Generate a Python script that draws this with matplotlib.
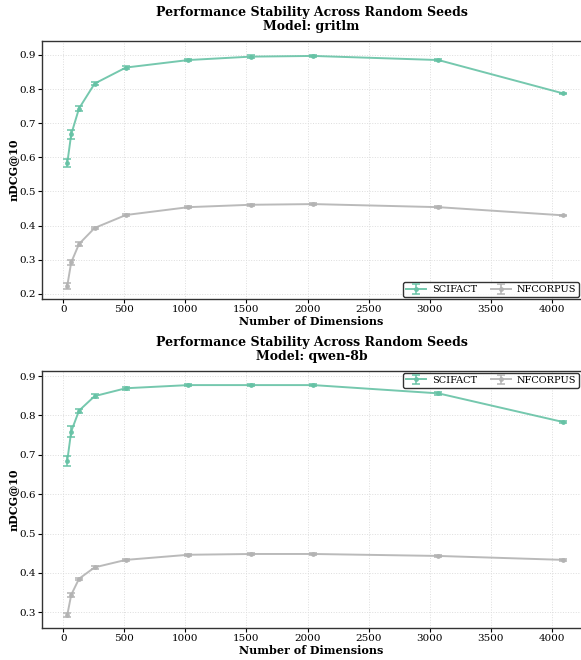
import matplotlib
matplotlib.use('Agg')
import matplotlib.pyplot as plt
import numpy as np

plt.rcParams['font.family'] = 'DejaVu Serif'

dims = [32, 64, 128, 256, 512, 1024, 1536, 2048, 3072, 4096]

# gritlm
gritlm_scifact = [0.583, 0.667, 0.743, 0.816, 0.863, 0.885, 0.895, 0.897, 0.885, 0.787]
gritlm_scifact_err = [0.011, 0.012, 0.008, 0.005, 0.005, 0.004, 0.004, 0.004, 0.003, 0.002]
gritlm_nfcorpus = [0.224, 0.292, 0.346, 0.393, 0.431, 0.454, 0.461, 0.463, 0.454, 0.430]
gritlm_nfcorpus_err = [0.009, 0.007, 0.006, 0.003, 0.003, 0.003, 0.003, 0.003, 0.003, 0.002]

# qwen-8b
qwen_scifact = [0.685, 0.759, 0.812, 0.849, 0.869, 0.877, 0.877, 0.877, 0.856, 0.783]
qwen_scifact_err = [0.013, 0.013, 0.005, 0.006, 0.004, 0.003, 0.003, 0.003, 0.003, 0.002]
qwen_nfcorpus = [0.293, 0.344, 0.385, 0.414, 0.433, 0.446, 0.448, 0.448, 0.443, 0.433]
qwen_nfcorpus_err = [0.006, 0.005, 0.003, 0.004, 0.003, 0.003, 0.003, 0.003, 0.002, 0.002]

c_sci = '#66c2a5'
c_nf = '#b3b3b3'

fig = plt.figure(figsize=(5.81, 6.6), dpi=100)
ax1 = fig.add_axes([0.0723, 0.547, 0.9277, 0.391])
ax2 = fig.add_axes([0.0723, 0.0485, 0.9277, 0.3895])

panels = [
    (ax1, 'gritlm', gritlm_scifact, gritlm_scifact_err, gritlm_nfcorpus, gritlm_nfcorpus_err,
     'lower right', (0.185, 0.941)),
    (ax2, 'qwen-8b', qwen_scifact, qwen_scifact_err, qwen_nfcorpus, qwen_nfcorpus_err,
     'upper right', (0.26, 0.913)),
]

for ax, name, sci, sci_e, nf, nf_e, loc, ylim in panels:
    ax.errorbar(dims, sci, yerr=sci_e, color=c_sci, marker='o', markersize=2.5,
                linewidth=1.4, capsize=3, elinewidth=1.2, capthick=1.2,
                alpha=0.9, label='SCIFACT')
    ax.errorbar(dims, nf, yerr=nf_e, color=c_nf, marker='o', markersize=2.5,
                linewidth=1.4, capsize=3, elinewidth=1.2, capthick=1.2,
                alpha=0.9, label='NFCORPUS')
    ax.set_title('Performance Stability Across Random Seeds\nModel: ' + name,
                 fontsize=9, fontweight='bold', pad=8, linespacing=1.1)
    ax.set_xlabel('Number of Dimensions', fontsize=8, fontweight='bold', labelpad=1)
    ax.set_ylabel('nDCG@10', fontsize=8, fontweight='bold', labelpad=0.5)
    ax.set_xlim(-175, 4240)
    ax.set_ylim(*ylim)
    ax.set_xticks(np.arange(0, 4001, 500))
    ax.tick_params(labelsize=7.5, length=3, width=0.8, pad=1.5)
    ax.grid(True, linestyle=':', color='#dddddd', linewidth=0.7)
    ax.set_axisbelow(True)
    for s in ['left', 'bottom', 'top']:
        ax.spines[s].set_color('#333333')
        ax.spines[s].set_linewidth(1.0)
    ax.spines['right'].set_visible(False)
    leg = ax.legend(loc=loc, ncol=2, fontsize=7, frameon=True, fancybox=True,
                    borderpad=0.3, handlelength=2.0, columnspacing=1.5,
                    handletextpad=0.6, borderaxespad=0.2)
    leg.get_frame().set_edgecolor('black')
    leg.get_frame().set_linewidth(1.0)

fig.savefig('out.png', dpi=100)
